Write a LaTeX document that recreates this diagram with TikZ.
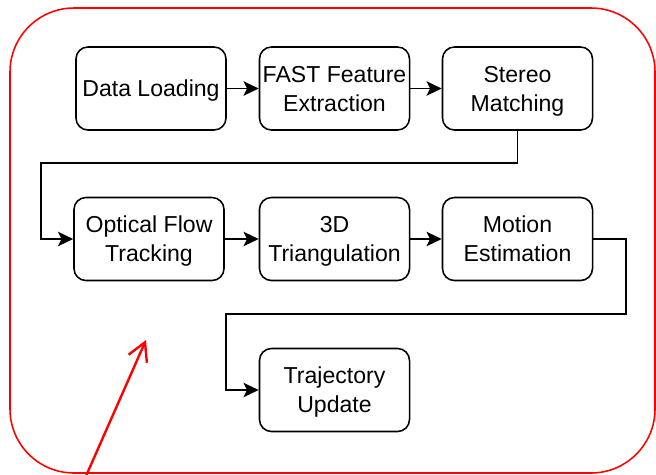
\documentclass[tikz,border=0pt]{standalone}
\usepackage{fontspec}
\setmainfont{Liberation Sans}
\usetikzlibrary{arrows.meta}
\begin{document}
\begin{tikzpicture}[x=0.025cm,y=-0.025cm,
    box/.style={draw,rounded corners=0.3cm,line width=1.1pt,
      minimum width=3.75cm,minimum height=2.075cm,inner sep=0pt,
      text depth=0pt,align=center,font=\fontsize{16.4}{20.6}\selectfont},
    link/.style={-{Stealth[length=0.38cm,width=0.36cm,inset=0.09cm]},line width=1.1pt}]
  \useasboundingbox (0,0) rectangle (656,474);
  \draw[red,line width=1.1pt,rounded corners=1.6cm] (10,8) rectangle (655,473);
  \draw
    (151,88.5) node[box] (0){Data Loading}
    (334.5,88.5) node[box] (1){FAST Feature\\Extraction}
    (517.5,88.5) node[box] (2){Stereo\\Matching}
    (149,239) node[box] (3){Optical Flow\\Tracking}
    (334.5,239) node[box] (4){3D\\Triangulation}
    (517.5,239) node[box] (5){Motion\\Estimation}
    (334.5,390) node[box] (6){Trajectory\\Update};
  \coordinate (a) at (41,163);
  \coordinate (b) at (626,239);
  \coordinate (c) at (226,314);
  \coordinate (r0) at (86,476);
  \coordinate (r1) at (146,340);
  \begin{scope}[link]
    \draw (0) to (1);
    \draw (1) to (2);
    \draw (2.south) |- (a) |- (3);
    \draw (3) to (4);
    \draw (4) to (5);
    \draw (5) -- (b) |- (c) |- (6);
  \end{scope}
  \draw[red,line width=1.7pt,-{Straight Barb[length=0.45cm,width=0.5cm]}] (r0) -- (r1);
\end{tikzpicture}
\end{document}
